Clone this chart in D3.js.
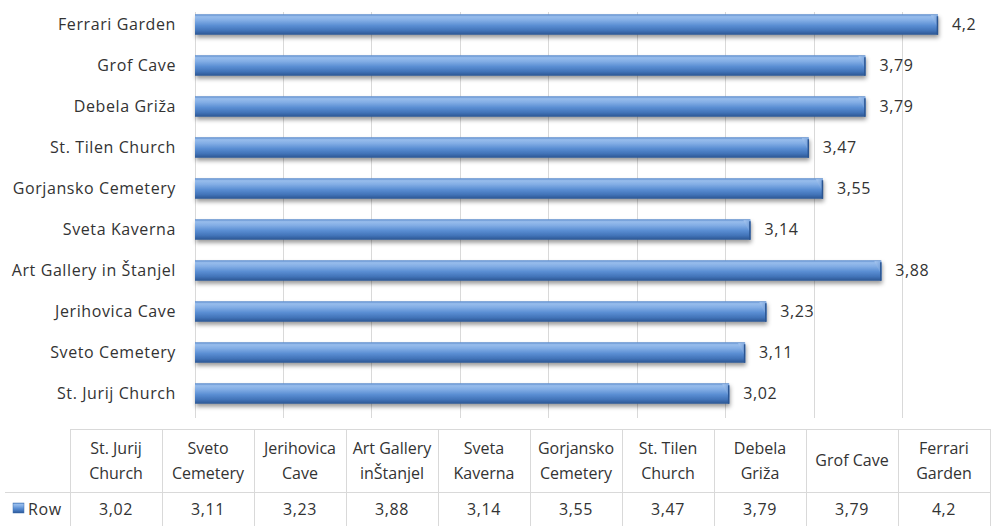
<!DOCTYPE html>
<html>
<head>
<meta charset="utf-8">
<script src="https://cdn.jsdelivr.net/npm/d3@7"></script>
<style>
  html, body { margin: 0; padding: 0; background: #fff; }
  svg { display: block; font-family: "Open Sans", sans-serif; }
</style>
</head>
<body>
<script>
// data, in table order (bottom bar first)
const categories = ["St. Jurij Church", "Sveto Cemetery", "Jerihovica Cave", "Art Gallery in Štanjel",
  "Sveta Kaverna", "Gorjansko Cemetery", "St. Tilen Church", "Debela Griža", "Grof Cave", "Ferrari Garden"];
const tableHeads = [["St. Jurij", "Church"], ["Sveto", "Cemetery"], ["Jerihovica", "Cave"], ["Art Gallery", "inŠtanjel"],
  ["Sveta", "Kaverna"], ["Gorjansko", "Cemetery"], ["St. Tilen", "Church"], ["Debela", "Griža"], ["Grof Cave"], ["Ferrari", "Garden"]];
const values = [3.02, 3.11, 3.23, 3.88, 3.14, 3.55, 3.47, 3.79, 3.79, 4.2];
const xTicks = [0, 0.5, 1, 1.5, 2, 2.5, 3, 3.5, 4];
const seriesName = "Row";

const width = 991, height = 526;
const fs = 16, ls = 0.6, textCol = "#333";
const fmt = v => String(v).replace(".", ",");

const svg = d3.select("body").append("svg")
  .attr("width", width).attr("height", height);

const defs = svg.append("defs");
const grad = defs.append("linearGradient").attr("id", "barGrad")
  .attr("x1", 0).attr("y1", 0).attr("x2", 0).attr("y2", 1);
[[0, "#5a8acb"], [0.12, "#98bdec"], [0.3, "#82ade5"], [0.55, "#5a8ed3"], [0.8, "#4273b8"], [1, "#2a5592"]]
  .forEach(s => grad.append("stop").attr("offset", s[0]).attr("stop-color", s[1]));
const capGrad = defs.append("linearGradient").attr("id", "capGrad")
  .attr("x1", 0).attr("y1", 0).attr("x2", 1).attr("y2", 1);
capGrad.append("stop").attr("offset", 0).attr("stop-color", "#a9c8f0");
capGrad.append("stop").attr("offset", 1).attr("stop-color", "#5d8fd2");
const shadow = defs.append("filter").attr("id", "shadow")
  .attr("x", "-5%").attr("y", "-50%").attr("width", "110%").attr("height", "220%");
shadow.append("feDropShadow").attr("dx", 1).attr("dy", 3).attr("stdDeviation", 2)
  .attr("flood-color", "#000").attr("flood-opacity", 0.4);

const plot = { left: 195, right: 991, top: 4, bottom: 414 };

const x = d3.scaleLinear().domain([0, 4.5]).range([plot.left, plot.right]);
const y = d3.scaleBand().domain(categories.slice().reverse())
  .range([plot.top, plot.bottom]).paddingInner(0.5).paddingOuter(0.25);

// gridlines
svg.append("g").selectAll("line").data(xTicks).join("line")
  .attr("x1", d => x(d)).attr("x2", d => x(d))
  .attr("y1", plot.top + 8).attr("y2", plot.bottom + 4)
  .attr("stroke", "#d9d9d9").attr("stroke-width", 1)
  .attr("shape-rendering", "crispEdges");

// category labels
svg.append("g").selectAll("text").data(categories).join("text")
  .attr("x", 176).attr("y", d => y(d) + y.bandwidth() / 2)
  .attr("dy", "0.35em").attr("text-anchor", "end")
  .attr("font-size", fs).attr("letter-spacing", ls).attr("fill", textCol)
  .text(d => d);

// bars
const bars = svg.append("g").selectAll("g").data(categories).join("g");
bars.append("rect")
  .attr("x", x(0)).attr("y", d => y(d))
  .attr("width", (d, i) => x(values[i]) - x(0))
  .attr("height", y.bandwidth())
  .attr("fill", "url(#barGrad)")
  .attr("filter", "url(#shadow)");
bars.append("path")
  .attr("d", (d, i) => {
    const x1 = x(values[i]), y0 = y(d), h = y.bandwidth();
    return `M${x1 - 7},${y0 + 1}L${x1},${y0 + 1}L${x1},${y0 + h * 0.7}Z`;
  })
  .attr("fill", "url(#capGrad)");
bars.append("line")
  .attr("x1", (d, i) => x(values[i]) - 0.5).attr("x2", (d, i) => x(values[i]) - 0.5)
  .attr("y1", d => y(d) + 2).attr("y2", d => y(d) + y.bandwidth())
  .attr("stroke", "#2a5592").attr("stroke-width", 1.5);

// value labels
svg.append("g").selectAll("text").data(categories).join("text")
  .attr("x", (d, i) => x(values[i]) + 14)
  .attr("y", d => y(d) + y.bandwidth() / 2)
  .attr("dy", "0.35em")
  .attr("font-size", fs).attr("letter-spacing", ls).attr("fill", textCol)
  .text((d, i) => fmt(values[i]));

// data table
const table = { left: 70, right: 990, top: 429, mid: 492, bottom: 528 };
const col = d3.scaleBand().domain(categories).range([table.left, table.right]);
const tg = svg.append("g").attr("stroke", "#d9d9d9").attr("shape-rendering", "crispEdges");
tg.append("line").attr("x1", table.left).attr("x2", table.right).attr("y1", table.top).attr("y2", table.top);
tg.append("line").attr("x1", 5).attr("x2", table.right).attr("y1", table.mid).attr("y2", table.mid);
tg.selectAll(".v").data(categories.concat([null])).join("line")
  .attr("x1", (d, i) => i < categories.length ? col(d) : table.right)
  .attr("x2", (d, i) => i < categories.length ? col(d) : table.right)
  .attr("y1", table.top).attr("y2", table.bottom);

const heads = svg.append("g").selectAll("text").data(categories).join("text")
  .attr("text-anchor", "middle").attr("font-size", fs).attr("fill", textCol);
heads.each(function(d, i) {
  const lines = tableHeads[i];
  const cy = (table.top + table.mid) / 2;
  const start = cy - (lines.length - 1) * 12.5;
  d3.select(this).selectAll("tspan").data(lines).join("tspan")
    .attr("x", col(d) + col.bandwidth() / 2)
    .attr("y", (l, j) => start + j * 25)
    .attr("dy", "0.35em")
    .text(l => l);
});

svg.append("g").selectAll("text").data(categories).join("text")
  .attr("x", d => col(d) + col.bandwidth() / 2)
  .attr("y", 509).attr("dy", "0.35em")
  .attr("text-anchor", "middle").attr("font-size", fs).attr("letter-spacing", ls).attr("fill", textCol)
  .text((d, i) => fmt(values[i]));

// legend key in table
svg.append("rect").attr("x", 13).attr("y", 503).attr("width", 11).attr("height", 10)
  .attr("fill", "url(#barGrad)").attr("stroke", "#3f6fb0").attr("stroke-width", 0.5);
svg.append("text").attr("x", 28).attr("y", 509).attr("dy", "0.35em")
  .attr("font-size", fs).attr("letter-spacing", ls).attr("fill", textCol).text(seriesName);
</script>
</body>
</html>
